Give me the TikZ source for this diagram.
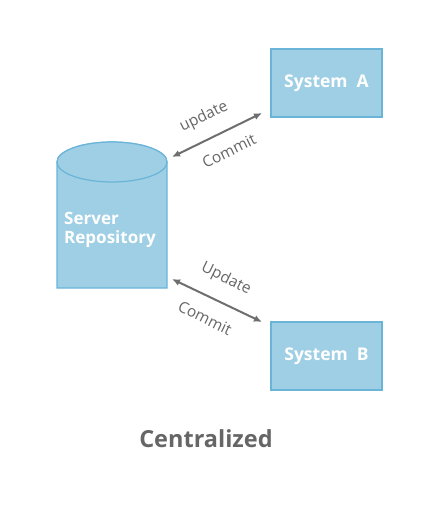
\documentclass[tikz,border=0pt]{standalone}
\usepackage{fontspec}
\setmainfont{Open Sans}
\usetikzlibrary{arrows.meta}
\definecolor{boxfill}{HTML}{9FCFE4}
\definecolor{boxline}{HTML}{6AB4D8}
\definecolor{arrgrey}{HTML}{6E6E6E}
\definecolor{txtgrey}{HTML}{666666}
\begin{document}
\begin{tikzpicture}[x=1pt,y=-1pt,
  sysbox/.style={draw=boxline,fill=boxfill,line width=1.2pt,minimum width=111pt,minimum height=68pt,inner sep=0pt,font=\fontsize{17.5}{20}\selectfont\bfseries,text=white},
  conn/.style={draw=arrgrey,line width=2pt,{Latex[length=8pt,width=7pt]}-{Latex[length=8pt,width=7pt]}},
  lbl/.style={font=\fontsize{15.5}{17}\selectfont,text=txtgrey,inner sep=0pt}]
\useasboundingbox (0,0) rectangle (423,505);
% cylinder
\path[draw=boxline,fill=boxfill,line width=1.2pt] (57,162) -- (57,288) -- (167,288) -- (167,162) arc[start angle=0,end angle=-180,x radius=55pt,y radius=-20pt] -- cycle;
\path[draw=boxline,fill=boxfill,line width=1.2pt] (112,162) ellipse[x radius=55pt,y radius=20pt];
\node[anchor=west,align=left,inner sep=0pt,font=\fontsize{17}{19}\selectfont\bfseries,text=white] (srv) at (64,230) {Server\\Repository};
\node[sysbox] (sa) at (326.5,83) {System~~A};
\node[sysbox] (sb) at (326.5,356) {System~~B};
\coordinate (s1) at (172,157);
\coordinate (a1) at (262,113);
\coordinate (s2) at (172,279);
\coordinate (b1) at (262,322);
\draw[conn] (s1) -- (a1);
\draw[conn] (s2) -- (b1);
\node[lbl,rotate=26] (u1) at (204,117) {update};
\node[lbl,rotate=26] (c1) at (229,151) {Commit};
\node[lbl,rotate=-26] (u2) at (226,279) {Update};
\node[lbl,rotate=-26] (c2) at (205,318) {Commit};
\node[font=\fontsize{23.5}{28}\selectfont\bfseries,text=txtgrey] (title) at (206,439) {Centralized};
\end{tikzpicture}
\end{document}
